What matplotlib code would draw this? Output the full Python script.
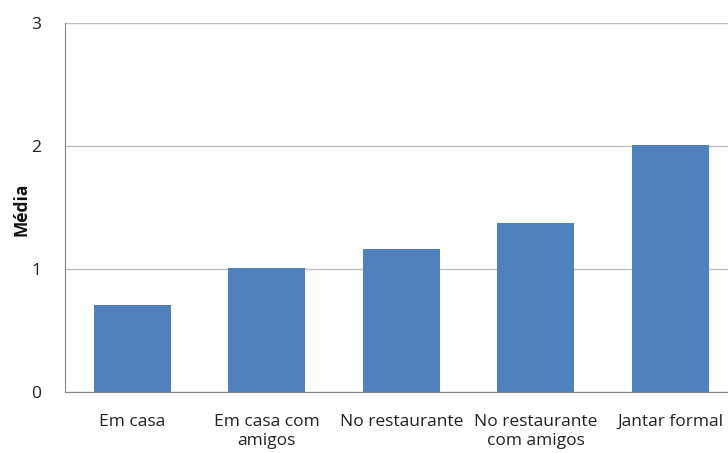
import matplotlib
matplotlib.use('Agg')
import matplotlib.pyplot as plt
import numpy as np

plt.rcParams['font.family'] = ['Open Sans', 'DejaVu Sans']

# average per eating situation
categories = ['Em casa', 'Em casa com\namigos', 'No restaurante',
              'No restaurante\ncom amigos', 'Jantar formal']
medias = [0.71, 1.01, 1.16, 1.37, 2.01]

fig = plt.figure(figsize=(7.28, 4.53), dpi=100)
ax = fig.add_axes([65/728, 1 - 392/453, 672.5/728, 369/453])

x = np.arange(len(categories))
ax.bar(x, medias, width=0.573, color='#4F81BD', zorder=3)

ax.set_xlim(-0.5, len(categories) - 0.5)
ax.set_ylim(0, 3)
ax.set_yticks([0, 1, 2, 3])
ax.set_xticks(x)
ax.set_xticklabels(categories, fontsize=12.5, color='#222222', linespacing=1.2)
ax.tick_params(axis='y', labelsize=12.5, colors='#222222', length=0, pad=17)
ax.tick_params(axis='x', length=0, pad=16)

ax.yaxis.grid(True, color='#BEBEBE', linewidth=1, zorder=0)
for side in ['top', 'right']:
    ax.spines[side].set_visible(False)
ax.spines['left'].set_color('#868686')
ax.spines['bottom'].set_color('#868686')

fig.text(21/728, 1 - 209/453, 'Média', rotation=90, ha='center', va='center',
         fontsize=12.5, fontweight='bold', color='#111111')

fig.savefig('out.png', dpi=100)
